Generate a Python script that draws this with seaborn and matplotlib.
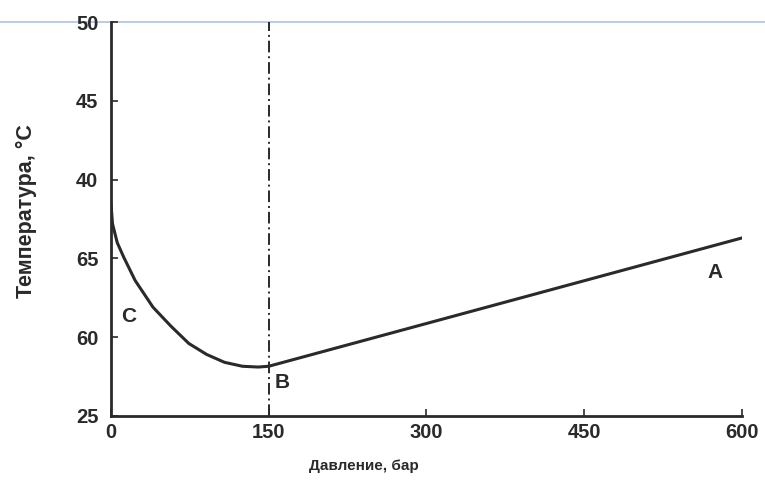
import matplotlib
matplotlib.use("Agg")
import matplotlib.pyplot as plt
import seaborn as sns
import pandas as pd
from matplotlib.lines import Line2D

sns.set_theme(style="white")
plt.rcParams['font.family'] = ['Liberation Sans', 'DejaVu Sans']

# Data
pressure = [0, 1.5, 6, 12, 23, 40, 57, 74, 91, 108, 125, 140, 150, 600]
temperature = [38.5, 37.2, 36.0, 35.1, 33.6, 31.9, 30.7, 29.6, 28.9, 28.4, 28.15, 28.1, 28.15, 36.3]
x_ticks = [0, 150, 300, 450, 600]
y_ticks = [25, 30, 35, 40, 45, 50]
y_tick_labels = ["25", "60", "65", "40", "45", "50"]
point_labels = ["A", "B", "C"]
point_label_pos = [(567, 34.1), (156, 27.1), (10, 31.3)]
vline_x = 150

df = pd.DataFrame({"p": pressure, "t": temperature})

fig = plt.figure(figsize=(7.65, 4.83), dpi=100)
ax = fig.add_axes([0.145, 0.139, 0.825, 0.815])
ax.patch.set_alpha(0)

ink = "#2a2a2a"
sns.lineplot(data=df, x="p", y="t", ax=ax, color=ink, linewidth=2.2)
ax.axvline(vline_x, color=ink, linewidth=1.4, linestyle=(0, (6, 2, 1, 2)))

ax.set_xlim(0, 600)
ax.set_ylim(25, 50)
ax.set_xticks(x_ticks)
ax.set_xticklabels([str(v) for v in x_ticks])
ax.set_yticks(y_ticks)
ax.set_yticklabels(y_tick_labels)
ax.tick_params(axis="both", direction="in", length=5, width=1.2, colors=ink,
               labelsize=14.5, labelcolor=ink, bottom=True, left=True)
ax.tick_params(axis="y", pad=9)
ax.tick_params(axis="x", pad=5)
for lab in ax.get_xticklabels() + ax.get_yticklabels():
    lab.set_fontweight("bold")

for s in ["top", "right"]:
    ax.spines[s].set_visible(False)
for s in ["left", "bottom"]:
    ax.spines[s].set_color(ink)
    ax.spines[s].set_linewidth(2.0)

ax.set_xlabel("Давление, бар", fontsize=11, color=ink, fontweight="bold")
ax.xaxis.set_label_coords((364 - 111) / 631, -(459 - 416) / 394)
ax.set_ylabel("Температура, °C", fontsize=15.5, color=ink, fontweight="bold")
ax.yaxis.set_label_coords(-(111 - 37) / 631, (416 - 211) / 394)

for lab, (px, py) in zip(point_labels, point_label_pos):
    ax.text(px, py, lab, fontsize=15, color=ink, ha="left", va="center", fontweight="bold")

# thin light-blue rule across the top of the scan
fig.add_artist(Line2D([0, 1], [1 - 22 / 483, 1 - 22 / 483], transform=fig.transFigure,
                      color="#a9c4e4", linewidth=1.2, zorder=0))

fig.savefig("out.png", dpi=100, facecolor="white")
